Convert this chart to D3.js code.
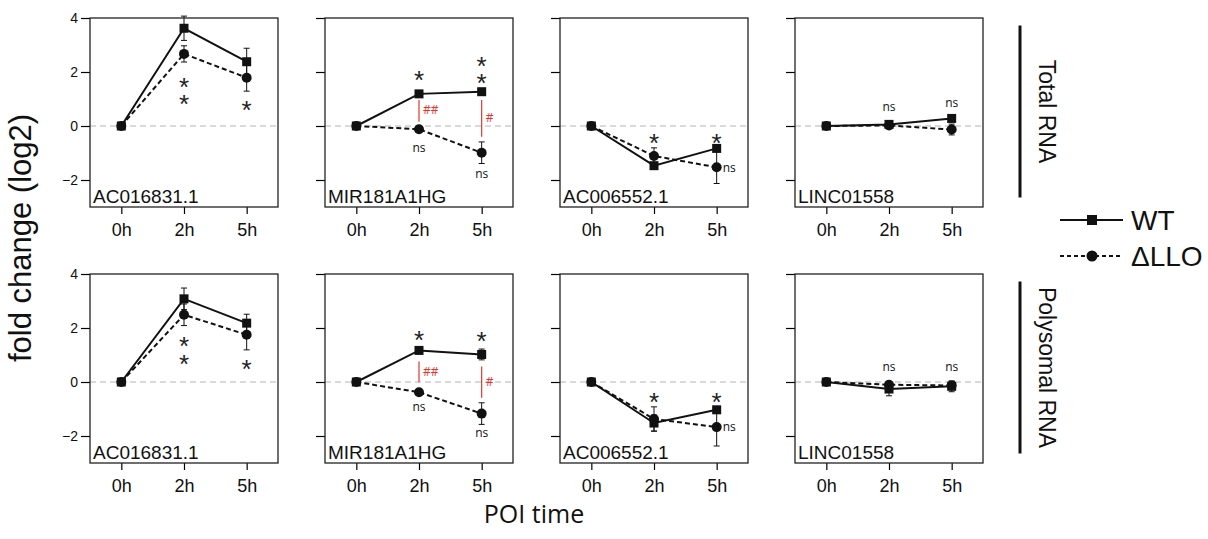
<!DOCTYPE html>
<html>
<head>
<meta charset="utf-8">
<script src="https://cdn.jsdelivr.net/npm/d3@7"></script>
<style>
  body { margin: 0; background: #fff; }
  svg { display: block; }
</style>
</head>
<body>
<div id="chart"></div>
<script>
// ---- data ----
const genes = ["AC016831.1", "MIR181A1HG", "AC006552.1", "LINC01558"];
const fractions = ["Total RNA", "Polysomal RNA"];
const times = ["0h", "2h", "5h"];
const yTicks = [-2, 0, 2, 4];

// fold change (log2), one row per gene
const wtTotal  = [[0, 3.62, 2.38], [0, 1.19, 1.27], [0, -1.47, -0.83], [0, 0.06, 0.28]];
const lloTotal = [[0, 2.67, 1.79], [0, -0.12, -0.99], [0, -1.11, -1.53], [0, 0.02, -0.13]];
const wtPoly   = [[0, 3.08, 2.18], [0, 1.17, 1.02], [0, -1.52, -1.03], [0, -0.26, -0.16]];
const lloPoly  = [[0, 2.49, 1.75], [0, -0.38, -1.17], [0, -1.37, -1.67], [0, -0.10, -0.13]];

// error bar half-widths
const wtTotalErr  = [[0, 0.45, 0.50], [0, 0.08, 0.08], [0, 0.10, 0.10], [0, 0.12, 0.12]];
const lloTotalErr = [[0, 0.30, 0.50], [0, 0.10, 0.40], [0, 0.30, 0.60], [0, 0.10, 0.20]];
const wtPolyErr   = [[0, 0.40, 0.33], [0, 0.12, 0.20], [0, 0.30, 0.10], [0, 0.25, 0.20]];
const lloPolyErr  = [[0, 0.40, 0.56], [0, 0.06, 0.40], [0, 0.45, 0.70], [0, 0.10, 0.15]];

// significance stars: [row, gene, time, y of top star, number of stars]
const starMarks = [
  [0, 0, 1, 1.70, 2], [0, 0, 2, 0.85, 1],
  [0, 1, 1, 1.93, 1], [0, 1, 2, 2.47, 2],
  [0, 2, 1, -0.37, 1], [0, 2, 2, -0.37, 1],
  [1, 0, 1, 1.57, 2], [1, 0, 2, 0.73, 1],
  [1, 1, 1, 1.79, 1], [1, 1, 2, 1.75, 1],
  [1, 2, 1, -0.51, 1], [1, 2, 2, -0.51, 1]
];
// [row, gene, time, y, beside]
const nsMarks = [
  [0, 1, 1, -0.80, false], [0, 1, 2, -1.78, false], [0, 2, 2, -1.53, true],
  [0, 3, 1, 0.70, false], [0, 3, 2, 0.85, false],
  [1, 1, 1, -0.90, false], [1, 1, 2, -1.87, false], [1, 2, 2, -1.67, true],
  [1, 3, 1, 0.58, false], [1, 3, 2, 0.58, false]
];
// WT vs dLLO: [row, gene, time, y1, y2, label, labelY]
const hashMarks = [
  [0, 1, 1, 0.96, 0.16, "##", 0.59], [0, 1, 2, 0.96, -0.40, "#", 0.30],
  [1, 1, 1, 0.76, -0.01, "##", 0.38], [1, 1, 2, 0.57, -0.58, "#", -0.01]
];

const rows = [
  { wt: wtTotal, llo: lloTotal, wtErr: wtTotalErr, lloErr: lloTotalErr },
  { wt: wtPoly, llo: lloPoly, wtErr: wtPolyErr, lloErr: lloPolyErr }
];

// ---- layout ----
const W = 1208, H = 539;
const panelW = 188, panelH = 189;
const panelLeft = [90, 325, 560, 795];
const panelTop = [18, 274];
const red = "#e2352d";
const sans = "'Liberation Sans', Arial, sans-serif";
const soft = "'Open Sans', sans-serif";

const svg = d3.select("#chart").append("svg")
  .attr("width", W).attr("height", H);

const x = d3.scalePoint().domain(times).range([0, panelW]).padding(0.5);
const y = d3.scaleLinear().domain([-3, 4]).range([panelH, 0]);

const lineGen = d3.line().x(d => x(d.t)).y(d => y(d.v));

rows.forEach((row, r) => {
  genes.forEach((gene, g) => {
    const p = svg.append("g")
      .attr("transform", `translate(${panelLeft[g]},${panelTop[r]})`);

    // axes
    const yAxis = d3.axisLeft(y).tickValues(yTicks).tickSize(9).tickPadding(3)
      .tickFormat(g === 0 ? d3.format("d") : () => "");
    p.append("g").call(yAxis)
      .call(a => a.select(".domain").remove())
      .call(a => a.selectAll("line").attr("stroke-width", 1.2))
      .call(a => a.selectAll("text").attr("font-family", sans).attr("font-size", 14).attr("fill", "#111"));

    const xAxis = d3.axisBottom(x).tickSize(7).tickPadding(9);
    p.append("g").attr("transform", `translate(0,${panelH})`).call(xAxis)
      .call(a => a.select(".domain").remove())
      .call(a => a.selectAll("line").attr("stroke-width", 1.2))
      .call(a => a.selectAll("text").attr("font-family", sans).attr("font-size", 18).attr("fill", "#111"));

    // zero line
    p.append("line")
      .attr("x1", 0).attr("x2", panelW)
      .attr("y1", y(0)).attr("y2", y(0))
      .attr("stroke", "#b3b3b3").attr("stroke-width", 1.2)
      .attr("stroke-dasharray", "6,4");

    // frame
    p.append("rect")
      .attr("width", panelW).attr("height", panelH)
      .attr("fill", "none").attr("stroke", "#222").attr("stroke-width", 1.3);

    const wt = times.map((t, i) => ({ t, v: row.wt[g][i], e: row.wtErr[g][i] }));
    const llo = times.map((t, i) => ({ t, v: row.llo[g][i], e: row.lloErr[g][i] }));

    // error bars
    [wt, llo].forEach(s => {
      const eb = p.append("g").selectAll("g")
        .data(s.filter(d => d.e > 0)).join("g")
        .attr("stroke", "#111").attr("stroke-width", 1);
      eb.append("line")
        .attr("x1", d => x(d.t)).attr("x2", d => x(d.t))
        .attr("y1", d => y(d.v - d.e)).attr("y2", d => y(d.v + d.e));
      eb.append("line")
        .attr("x1", d => x(d.t) - 3).attr("x2", d => x(d.t) + 3)
        .attr("y1", d => y(d.v + d.e)).attr("y2", d => y(d.v + d.e));
      eb.append("line")
        .attr("x1", d => x(d.t) - 3).attr("x2", d => x(d.t) + 3)
        .attr("y1", d => y(d.v - d.e)).attr("y2", d => y(d.v - d.e));
    });

    // lines
    p.append("path").datum(llo).attr("d", lineGen)
      .attr("fill", "none").attr("stroke", "#111").attr("stroke-width", 2)
      .attr("stroke-dasharray", "5,3");
    p.append("path").datum(wt).attr("d", lineGen)
      .attr("fill", "none").attr("stroke", "#111").attr("stroke-width", 2);

    // markers
    p.selectAll(".sq").data(wt).join("rect").attr("class", "sq")
      .attr("x", d => x(d.t) - 4.5).attr("y", d => y(d.v) - 4.5)
      .attr("width", 9).attr("height", 9).attr("fill", "#111");
    p.selectAll(".dot").data(llo).join("circle").attr("class", "dot")
      .attr("cx", d => x(d.t)).attr("cy", d => y(d.v))
      .attr("r", 5).attr("fill", "#111");

    // gene label
    p.append("text")
      .attr("x", 3).attr("y", panelH - 4)
      .attr("font-family", sans).attr("font-size", 19).attr("fill", "#111")
      .text(gene);

    // stars, stacked in one text element
    starMarks.filter(m => m[0] === r && m[1] === g).forEach(m => {
      const cx = x(times[m[2]]);
      const t = p.append("text")
        .attr("x", cx).attr("y", y(m[3]))
        .attr("text-anchor", "middle")
        .attr("font-family", sans).attr("font-size", 26).attr("fill", "#222");
      d3.range(m[4]).forEach(k => {
        t.append("tspan")
          .attr("x", cx)
          .attr("dy", k === 0 ? "0.6em" : "0.67em")
          .text("*");
      });
    });

    // ns
    nsMarks.filter(m => m[0] === r && m[1] === g).forEach(m => {
      p.append("text")
        .attr("x", x(times[m[2]]) + (m[4] ? 6 : 0)).attr("y", y(m[3]))
        .attr("dy", "0.35em")
        .attr("text-anchor", m[4] ? "start" : "middle")
        .attr("font-family", soft).attr("font-size", 12).attr("fill", "#111")
        .text("ns");
    });

    // WT vs dLLO
    hashMarks.filter(m => m[0] === r && m[1] === g).forEach(m => {
      const cx = x(times[m[2]]);
      p.append("line")
        .attr("x1", cx).attr("x2", cx)
        .attr("y1", y(m[3])).attr("y2", y(m[4]))
        .attr("stroke", red).attr("stroke-width", 1.2);
      p.append("text")
        .attr("x", cx + 4).attr("y", y(m[6]))
        .attr("dy", "0.35em")
        .attr("font-family", soft).attr("font-size", 12).attr("fill", red)
        .text(m[5]);
    });
  });

  // row label with bar
  const mid = panelTop[r] + panelH / 2 - 1;
  svg.append("line")
    .attr("x1", 1020).attr("x2", 1020)
    .attr("y1", mid - 86).attr("y2", mid + 86)
    .attr("stroke", "#111").attr("stroke-width", 3);
  svg.append("text")
    .attr("transform", `translate(1039,${mid}) rotate(90)`)
    .attr("text-anchor", "middle")
    .attr("font-family", sans).attr("font-size", 23).attr("fill", "#111")
    .text(fractions[r]);
});

// axis titles
svg.append("text")
  .attr("transform", "translate(31,238) rotate(-90)")
  .attr("text-anchor", "middle")
  .attr("font-family", sans).attr("font-size", 31).attr("fill", "#111")
  .text("fold change (log2)");

svg.append("text")
  .attr("x", 534).attr("y", 523)
  .attr("text-anchor", "middle")
  .attr("font-family", soft).attr("font-size", 25).attr("fill", "#111")
  .text("POI time");

// legend
const legend = svg.append("g");
const legendItems = [
  { label: "WT", y: 220, dash: null, shape: "square" },
  { label: "\u0394LLO", y: 256, dash: "4,3", shape: "circle" }
];
legendItems.forEach(it => {
  legend.append("line")
    .attr("x1", 1060).attr("x2", 1123).attr("y1", it.y).attr("y2", it.y)
    .attr("stroke", "#111").attr("stroke-width", 2)
    .attr("stroke-dasharray", it.dash);
  if (it.shape === "square") {
    legend.append("rect").attr("x", 1087).attr("y", it.y - 5)
      .attr("width", 10).attr("height", 10).attr("fill", "#111");
  } else {
    legend.append("circle").attr("cx", 1092).attr("cy", it.y)
      .attr("r", 5.5).attr("fill", "#111");
  }
  legend.append("text")
    .attr("x", 1131).attr("y", it.y + 10)
    .attr("font-family", sans).attr("font-size", 28).attr("fill", "#111")
    .text(it.label);
});
</script>
</body>
</html>
